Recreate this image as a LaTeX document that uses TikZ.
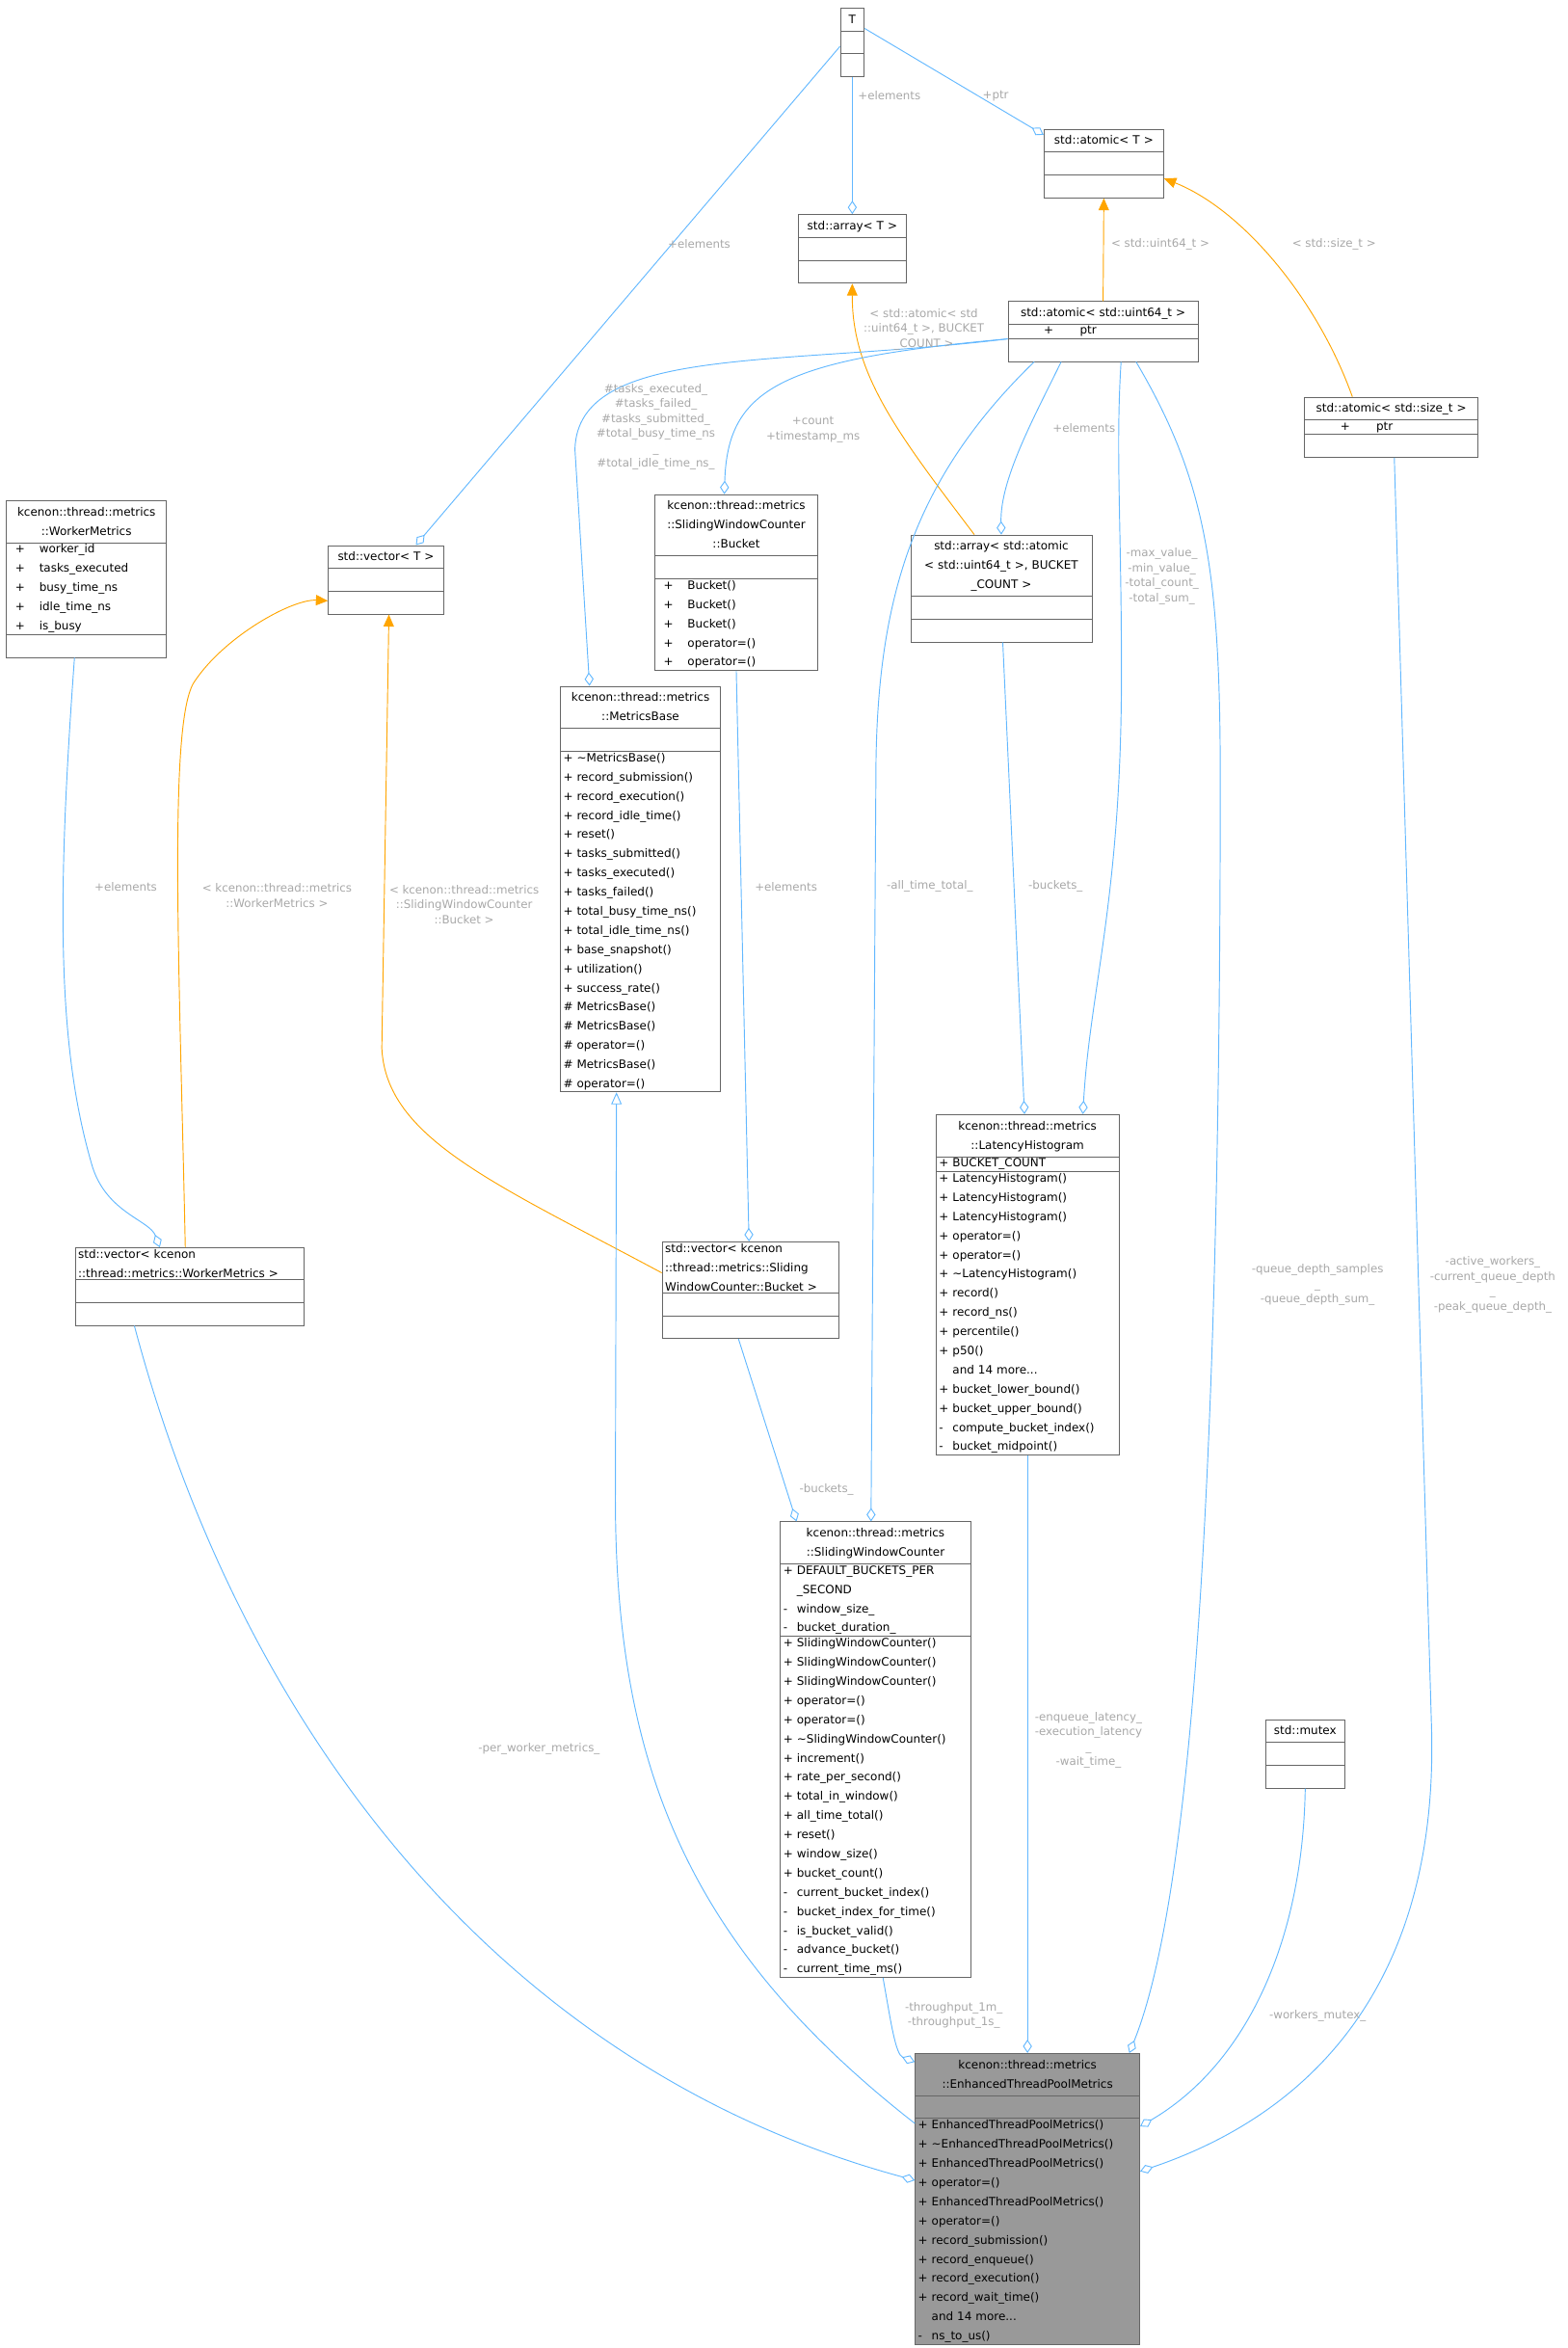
\documentclass[tikz,border=0pt]{standalone}
\usepackage{fontspec}
\setmainfont{DejaVu Sans}
\usetikzlibrary{shapes.multipart,arrows.meta}
\definecolor{eblue}{HTML}{63B8FF}
\definecolor{eorange}{HTML}{FFA500}
\definecolor{lgray}{HTML}{A8A8A8}
\definecolor{bgray}{HTML}{666666}
\newcommand\dfont{\fontsize{7.7}{12.8}\selectfont}
\newcommand\lfont{\fontsize{7.6}{10}\selectfont}
\newcommand\mem[2]{\makebox[9pt][l]{#1}#2}
\newcommand\memw[3]{\hspace*{#1}\makebox[16pt][l]{#2}#3}
\newcommand\ttl[1]{\begin{minipage}[t]{\linewidth}\centering\strut #1\strut\end{minipage}}
\tikzset{
 cls/.style={rectangle split, rectangle split parts=3, draw=bgray, fill=white, anchor=north west,
   inner xsep=2pt, inner ysep=1pt, font=\dfont, line width=0.5pt, align=left},
 agg/.style={draw=eblue, line width=0.6pt, -{Diamond[open,length=9pt,width=6pt]}},
 inst/.style={draw=eorange, line width=0.6pt, -{Triangle[length=8pt,width=7pt]}},
 inh/.style={draw=eblue, line width=0.6pt, -{Triangle[open,length=8pt,width=7pt]}},
 lbl/.style={font=\lfont, text=lgray, align=center, inner sep=0pt}
}
\begin{document}
\begin{tikzpicture}[x=1pt,y=1pt]
\useasboundingbox (0,0) rectangle (1047,-1568);
% classes
\node[cls, text width=12pt] (T) at (561,-5) {\nodepart{one}\ttl{T}\nodepart{two}\strut\nodepart{three}\strut};
\node[cls, text width=76pt] (atT) at (697,-86) {\nodepart{one}\ttl{std::atomic< T >}\nodepart{two}\strut\nodepart{three}\strut};
\node[cls, text width=68pt] (arrT) at (533,-143) {\nodepart{one}\ttl{std::array< T >}\nodepart{two}\strut\nodepart{three}\strut};
\node[cls, text width=123pt] (au) at (673,-201) {\nodepart{one}\ttl{std::atomic< std::uint64\_t >}\nodepart{two}\memw{22pt}{+}{\hspace*{8pt}ptr}\nodepart{three}\strut};
\node[cls, text width=112pt] (as) at (871,-265) {\nodepart{one}\ttl{std::atomic< std::size\_t >}\nodepart{two}\memw{22pt}{+}{\hspace*{8pt}ptr}\nodepart{three}\strut};
\node[cls, text width=103pt] (wm) at (4,-334) {\nodepart{one}\ttl{kcenon::thread::metrics\\::WorkerMetrics}\nodepart{two}\memw{4pt}{+}{worker\_id}\\\memw{4pt}{+}{tasks\_executed}\\\memw{4pt}{+}{busy\_time\_ns}\\\memw{4pt}{+}{idle\_time\_ns}\\\memw{4pt}{+}{is\_busy}\nodepart{three}\strut};
\node[cls, text width=73pt] (vecT) at (219,-364) {\nodepart{one}\ttl{std::vector< T >}\nodepart{two}\strut\nodepart{three}\strut};
\node[cls, text width=105pt] (bk) at (437,-330) {\nodepart{one}\ttl{kcenon::thread::metrics\\::SlidingWindowCounter\\::Bucket}\nodepart{two}\strut\nodepart{three}\memw{4pt}{+}{Bucket()}\\\memw{4pt}{+}{Bucket()}\\\memw{4pt}{+}{Bucket()}\\\memw{4pt}{+}{operator=()}\\\memw{4pt}{+}{operator=()}};
\node[cls, text width=117pt] (arrA) at (608,-357) {\nodepart{one}\ttl{std::array< std::atomic\\< std::uint64\_t >, BUCKET\\\_COUNT >}\nodepart{two}\strut\nodepart{three}\strut};
\node[cls, text width=103pt] (mb) at (374,-458) {\nodepart{one}\ttl{kcenon::thread::metrics\\::MetricsBase}\nodepart{two}\strut\nodepart{three}\mem{+}{\textasciitilde MetricsBase()}\\\mem{+}{record\_submission()}\\\mem{+}{record\_execution()}\\\mem{+}{record\_idle\_time()}\\\mem{+}{reset()}\\\mem{+}{tasks\_submitted()}\\\mem{+}{tasks\_executed()}\\\mem{+}{tasks\_failed()}\\\mem{+}{total\_busy\_time\_ns()}\\\mem{+}{total\_idle\_time\_ns()}\\\mem{+}{base\_snapshot()}\\\mem{+}{utilization()}\\\mem{+}{success\_rate()}\\\mem{\#}{MetricsBase()}\\\mem{\#}{MetricsBase()}\\\mem{\#}{operator=()}\\\mem{\#}{MetricsBase()}\\\mem{\#}{operator=()}};
\node[cls, text width=118pt] (lh) at (625,-744) {\nodepart{one}\ttl{kcenon::thread::metrics\\::LatencyHistogram}\nodepart{two}\mem{+}{BUCKET\_COUNT}\nodepart{three}\mem{+}{LatencyHistogram()}\\\mem{+}{LatencyHistogram()}\\\mem{+}{LatencyHistogram()}\\\mem{+}{operator=()}\\\mem{+}{operator=()}\\\mem{+}{\textasciitilde LatencyHistogram()}\\\mem{+}{record()}\\\mem{+}{record\_ns()}\\\mem{+}{percentile()}\\\mem{+}{p50()}\\\mem{}{and 14 more...}\\\mem{+}{bucket\_lower\_bound()}\\\mem{+}{bucket\_upper\_bound()}\\\mem{-}{compute\_bucket\_index()}\\\mem{-}{bucket\_midpoint()}};
\node[cls, text width=149pt] (vwm) at (50,-833) {\nodepart{one}std::vector< kcenon\\::thread::metrics::WorkerMetrics >\nodepart{two}\strut\nodepart{three}\strut};
\node[cls, text width=114pt] (vbk) at (442,-829) {\nodepart{one}std::vector< kcenon\\::thread::metrics::Sliding\\WindowCounter::Bucket >\nodepart{two}\strut\nodepart{three}\strut};
\node[cls, text width=123pt] (swc) at (521,-1016) {\nodepart{one}\ttl{kcenon::thread::metrics\\::SlidingWindowCounter}\nodepart{two}\mem{+}{DEFAULT\_BUCKETS\_PER}\\\mem{}{\_SECOND}\\\mem{-}{window\_size\_}\\\mem{-}{bucket\_duration\_}\nodepart{three}\mem{+}{SlidingWindowCounter()}\\\mem{+}{SlidingWindowCounter()}\\\mem{+}{SlidingWindowCounter()}\\\mem{+}{operator=()}\\\mem{+}{operator=()}\\\mem{+}{\textasciitilde SlidingWindowCounter()}\\\mem{+}{increment()}\\\mem{+}{rate\_per\_second()}\\\mem{+}{total\_in\_window()}\\\mem{+}{all\_time\_total()}\\\mem{+}{reset()}\\\mem{+}{window\_size()}\\\mem{+}{bucket\_count()}\\\mem{-}{current\_bucket\_index()}\\\mem{-}{bucket\_index\_for\_time()}\\\mem{-}{is\_bucket\_valid()}\\\mem{-}{advance\_bucket()}\\\mem{-}{current\_time\_ms()}};
\node[cls, text width=49pt] (mx) at (845,-1148) {\nodepart{one}\ttl{std::mutex}\nodepart{two}\strut\nodepart{three}\strut};
\node[cls, text width=146pt, fill={rgb,255:red,153;green,153;blue,153}] (etpm) at (611,-1371) {\nodepart{one}\ttl{kcenon::thread::metrics\\::EnhancedThreadPoolMetrics}\nodepart{two}\strut\nodepart{three}\mem{+}{EnhancedThreadPoolMetrics()}\\\mem{+}{\textasciitilde EnhancedThreadPoolMetrics()}\\\mem{+}{EnhancedThreadPoolMetrics()}\\\mem{+}{operator=()}\\\mem{+}{EnhancedThreadPoolMetrics()}\\\mem{+}{operator=()}\\\mem{+}{record\_submission()}\\\mem{+}{record\_enqueue()}\\\mem{+}{record\_execution()}\\\mem{+}{record\_wait\_time()}\\\mem{}{and 14 more...}\\\mem{-}{ns\_to\_us()}};
% edges
\draw[agg] (T.south) -- (arrT.north);
\draw[agg] ([yshift=-14pt]T.north east) -- ([yshift=-4pt]atT.north west);
\draw[agg] ([yshift=-26pt]T.north west) -- ([xshift=20pt]vecT.north);
\draw[inst] (au.north) -- (atT.south);
\draw[inst] ([xshift=-26pt]as.north) .. controls (880,-200) and (830,-140) .. ([yshift=-10pt]atT.east);
\draw[inst] ([xshift=-18pt]arrA.north) .. controls (600,-290) and (569,-250) .. (arrT.south);
\draw[agg] ([yshift=-5pt]au.west) .. controls (520,-245) and (386,-230) .. (384,-300) -- ([xshift=-34pt]mb.north);
\draw[agg] ([yshift=-5pt]au.west) .. controls (520,-240) and (486,-260) .. ([xshift=-8pt]bk.north);
\draw[agg] ([xshift=-28pt]au.south) .. controls (690,-280) and (668,-320) .. (arrA.north);
\draw[agg] ([xshift=-46pt]au.south) .. controls (610,-320) and (585,-400) .. (585,-520) -- ([xshift=-3pt]swc.north);
\draw[agg] ([xshift=12pt]au.south) .. controls (745,-300) and (749,-350) .. (749,-450) .. controls (749,-600) and (728,-660) .. ([xshift=37pt]lh.north);
\draw[agg] ([xshift=22pt]au.south) .. controls (805,-320) and (815,-380) .. (815,-520) .. controls (815,-1000) and (795,-1270) .. ([xshift=68pt]etpm.north);
\draw[agg] ([xshift=2pt]as.south) -- (956,-1150) .. controls (962,-1320) and (880,-1410) .. ([yshift=-79pt]etpm.north east);
\draw[agg] ([xshift=-8pt]wm.south) .. controls (38,-600) and (38,-700) .. (62,-780) .. controls (72,-810) and (100,-815) .. ([xshift=-20pt]vwm.north);
\draw[inst] ([xshift=-3pt]vwm.north) .. controls (120,-650) and (112,-480) .. (130,-455) .. controls (150,-425) and (195,-400) .. ([yshift=-14pt]vecT.west);
\draw[inst] ([yshift=-21pt]vbk.north west) .. controls (330,-790) and (258,-760) .. (255,-700) -- ([xshift=2pt]vecT.south);
\draw[agg] (bk.south) -- ([xshift=-1pt]vbk.north);
\draw[agg] ([xshift=1pt]arrA.south) -- ([xshift=-2pt]lh.north);
\draw[agg] ([xshift=-8pt]vbk.south) -- ([xshift=11pt]swc.north west);
\draw[agg] ([xshift=-37pt]vwm.south) .. controls (160,-1150) and (330,-1380) .. ([yshift=-85pt]etpm.north west);
\draw[inh] ([yshift=-47pt]etpm.north west) .. controls (460,-1300) and (411,-1180) .. (411,-1000) -- ([xshift=-16pt]mb.south);
\draw[agg] ([xshift=5pt]swc.south) .. controls (595,-1350) and (598,-1372) .. ([yshift=-6pt]etpm.north west);
\draw[agg] (lh.south) -- (etpm.north);
\draw[agg] (mx.south) .. controls (870,-1300) and (830,-1380) .. ([yshift=-49pt]etpm.north east);
% labels
\node[lbl] (l1) at (594,-64) {+elements};
\node[lbl] (l2) at (665,-64) {+ptr};
\node[lbl] (l3) at (467,-163) {+elements};
\node[lbl] (l4) at (775,-163) {< std::uint64\_t >};
\node[lbl] (l5) at (891,-163) {< std::size\_t >};
\node[lbl] (l6) at (617,-220) {< std::atomic< std\\::uint64\_t >, BUCKET\\\_COUNT >};
\node[lbl] (l7) at (438,-285) {\#tasks\_executed\_\\\#tasks\_failed\_\\\#tasks\_submitted\_\\\#total\_busy\_time\_ns\\\_\\\#total\_idle\_time\_ns\_};
\node[lbl] (l8) at (543,-287) {+count\\+timestamp\_ms};
\node[lbl] (l9) at (724,-286) {+elements};
\node[lbl] (l10) at (776,-385) {-max\_value\_\\-min\_value\_\\-total\_count\_\\-total\_sum\_};
\node[lbl] (l11) at (84,-592) {+elements};
\node[lbl] (l12) at (185,-598) {< kcenon::thread::metrics\\::WorkerMetrics >};
\node[lbl] (l13) at (310,-604) {< kcenon::thread::metrics\\::SlidingWindowCounter\\::Bucket >};
\node[lbl] (l14) at (525,-592) {+elements};
\node[lbl] (l15) at (621,-592) {-all\_time\_total\_};
\node[lbl] (l16) at (705,-592) {-buckets\_};
\node[lbl] (l17) at (880,-858) {-queue\_depth\_samples\\\_\\-queue\_depth\_sum\_};
\node[lbl] (l18) at (997,-858) {-active\_workers\_\\-current\_queue\_depth\\\_\\-peak\_queue\_depth\_};
\node[lbl] (l19) at (552,-995) {-buckets\_};
\node[lbl] (l20) at (360,-1168) {-per\_worker\_metrics\_};
\node[lbl] (l21) at (727,-1162) {-enqueue\_latency\_\\-execution\_latency\\\_\\-wait\_time\_};
\node[lbl] (l22) at (637,-1346) {-throughput\_1m\_\\-throughput\_1s\_};
\node[lbl] (l23) at (880,-1346) {-workers\_mutex\_};
\end{tikzpicture}
\end{document}
